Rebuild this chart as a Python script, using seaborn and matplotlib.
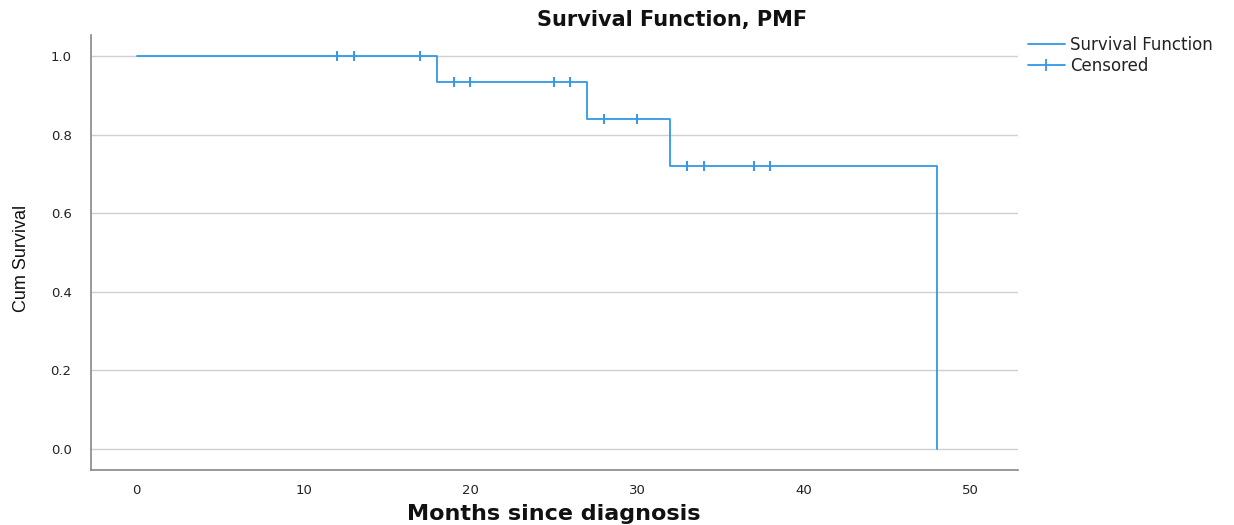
import matplotlib
matplotlib.use("Agg")
import matplotlib.pyplot as plt
from matplotlib.lines import Line2D
import seaborn as sns
import pandas as pd

# Data
step_times = [0, 18, 27, 32, 48]
step_surv = [1.0, 0.9333, 0.84, 0.72, 0.0]
censor_times = [12, 13, 17, 19, 20, 25, 26, 28, 30, 33, 33, 34, 37, 38]
censor_surv = [1.0, 1.0, 1.0, 0.9333, 0.9333, 0.9333, 0.9333, 0.84, 0.84, 0.72, 0.72, 0.72, 0.72, 0.72]
x_ticks = [0, 10, 20, 30, 40, 50]
y_ticks = [0.0, 0.2, 0.4, 0.6, 0.8, 1.0]

sns.set_theme(style="white")
plt.rcParams['font.family'] = ['DejaVu Sans']

color = '#3399e6'
fig = plt.figure(figsize=(12.34, 5.25), dpi=100)
ax = fig.add_axes([0.0737, 0.1048, 0.7513, 0.8285])

steps = pd.DataFrame({'t': step_times, 's': step_surv})
cens = pd.DataFrame({'t': censor_times, 's': censor_surv})

for y in y_ticks:
    ax.axhline(y, color='#d0d0d0', lw=1.0, zorder=0)

sns.lineplot(data=steps, x='t', y='s', drawstyle='steps-post', color=color, lw=1.3, ax=ax, legend=False)
sns.scatterplot(data=cens, x='t', y='s', marker='|', s=45, color=color, linewidth=1.4, ax=ax, legend=False)

ax.set_xlim(-2.75, 52.85)
ax.set_ylim(-0.053, 1.053)
ax.set_xticks(x_ticks)
ax.set_yticks(y_ticks)
ax.set_xticklabels([str(v) for v in x_ticks])
ax.set_yticklabels([f"{v:.1f}" for v in y_ticks])
ax.set_xlabel("")
ax.set_ylabel("")
ax.tick_params(axis='both', length=0, labelsize=9.5, colors='#222222')
ax.tick_params(axis='x', pad=10)
ax.tick_params(axis='y', pad=14)
for sp in ['top', 'right']:
    ax.spines[sp].set_visible(False)
for sp in ['left', 'bottom']:
    ax.spines[sp].set_color('#888888')
    ax.spines[sp].set_linewidth(1.2)

fig.text(672 / 1234, 1 - 20 / 525, "Survival Function, PMF", fontsize=15, fontweight='bold',
         ha='center', va='center', color='#111111')
fig.text(554 / 1234, 1 - 514 / 525, "Months since diagnosis", fontsize=16, fontweight='bold',
         ha='center', va='center', color='#111111')
fig.text(22 / 1234, 1 - 258 / 525, "Cum Survival", fontsize=13, family=['Liberation Sans', 'DejaVu Sans'],
         rotation=90, ha='center', va='center', color='#111111')

handles = [Line2D([0], [0], color=color, lw=1.3),
           Line2D([0], [0], color=color, lw=1.3, marker='|', markersize=9, markeredgewidth=1.3)]
ax.legend(handles, ["Survival Function", "Censored"], loc='upper left', bbox_to_anchor=(1.0, 1.02),
          frameon=False, fontsize=12, handlelength=2.2, labelspacing=0.15, borderaxespad=0.2,
          handletextpad=0.3, labelcolor='#222222')

fig.savefig("out.png", dpi=100)
